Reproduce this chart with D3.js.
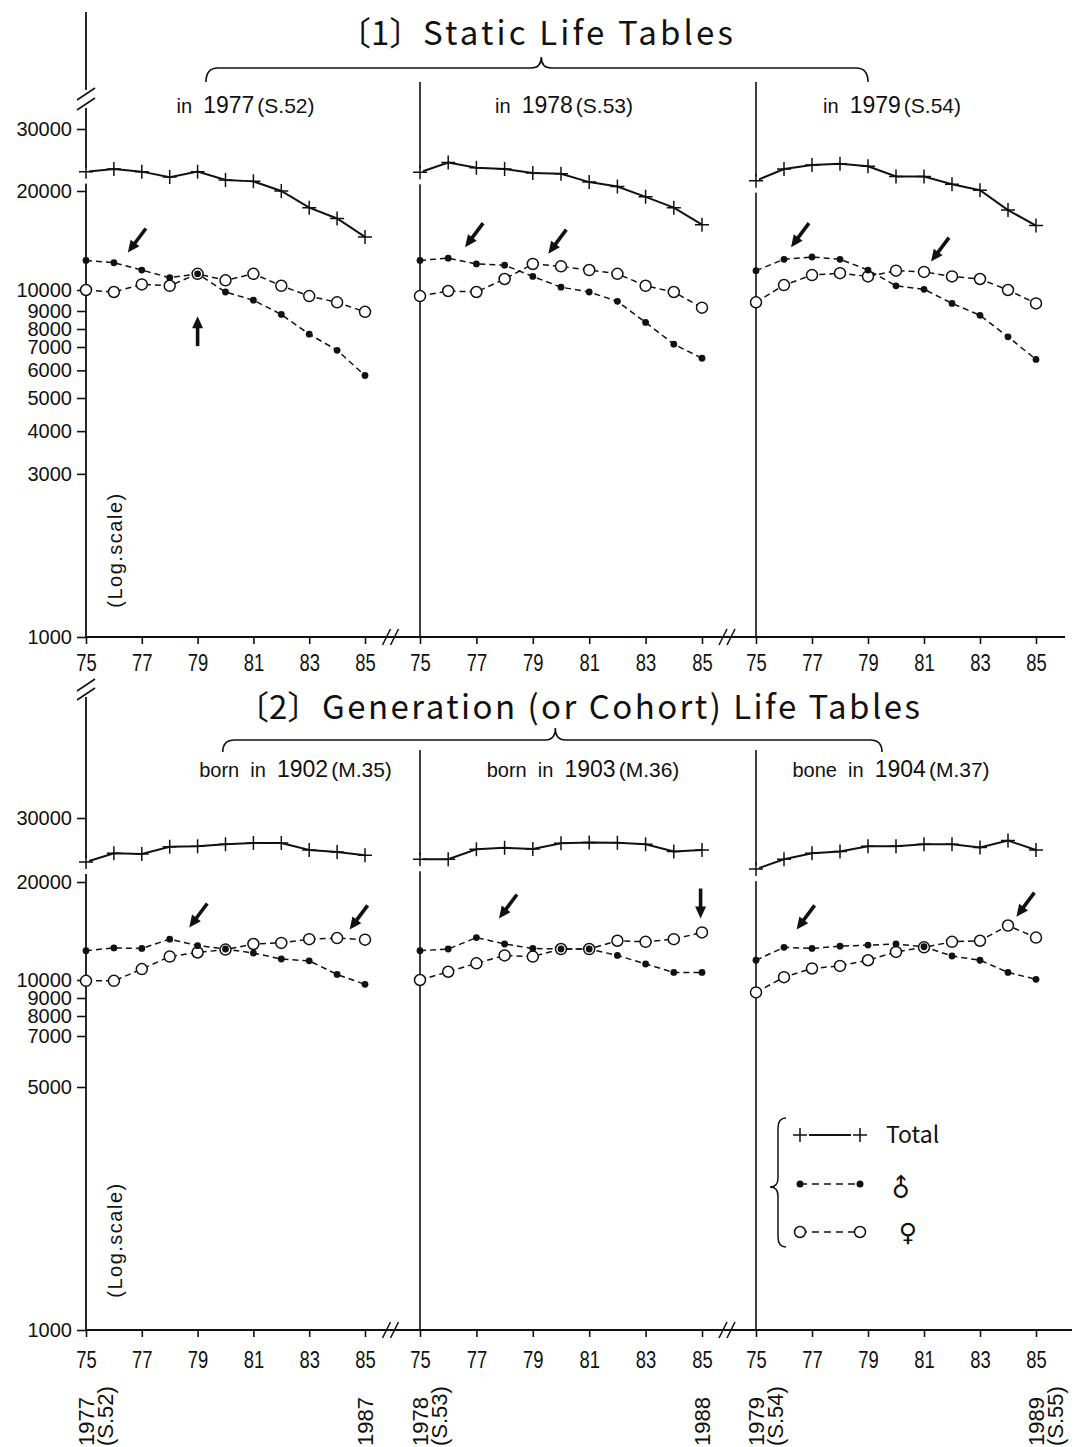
<!DOCTYPE html>
<html>
<head>
<meta charset="utf-8">
<script src="https://cdn.jsdelivr.net/npm/d3@7"></script>
<style>
  body { margin: 0; background: #fff; }
  svg { display: block; }
  text { fill: #111; white-space: pre; }
</style>
</head>
<body>
<div id="chart"></div>
<script>
// ---- data ----
const years = [75, 76, 77, 78, 79, 80, 81, 82, 83, 84, 85];
const yearTicks = [75, 77, 79, 81, 83, 85];
const topTicks = [30000, 20000, 10000, 9000, 8000, 7000, 6000, 5000, 4000, 3000, 1000];
const bottomTicks = [30000, 20000, 10000, 9000, 8000, 7000, 5000, 1000];

// [1] static life tables, one row per panel (1977, 1978, 1979)
const staticTotal = [
  [22700, 23100, 22700, 21900, 22700, 21500, 21300, 20000, 17800, 16500, 14500],
  [22600, 24100, 23300, 23100, 22500, 22400, 21200, 20600, 19200, 17800, 15800],
  [21400, 23100, 23700, 23900, 23500, 22000, 22000, 20900, 20100, 17500, 15700]
];
const staticMale = [
  [12300, 12100, 11500, 10900, 11200, 9900, 9500, 8800, 7700, 6850, 5800],
  [12300, 12500, 12000, 11900, 11000, 10200, 9900, 9450, 8350, 7150, 6500],
  [11450, 12400, 12600, 12400, 11500, 10300, 10050, 9350, 8750, 7550, 6450]
];
const staticFemale = [
  [10000, 9900, 10400, 10300, 11200, 10700, 11200, 10300, 9700, 9400, 8950],
  [9700, 9950, 9900, 10800, 12000, 11800, 11500, 11200, 10300, 9900, 9150],
  [9400, 10350, 11100, 11250, 11000, 11450, 11350, 11000, 10800, 10000, 9350]
];
const staticSubs = [["in", "1977", "(S.52)"], ["in", "1978", "(S.53)"], ["in", "1979", "(S.54)"]];
const staticArrows = [[0, 76.5, 13000, "sw"], [0, 79.0, 8700, "up"], [1, 76.6, 13500, "sw"],
                      [1, 79.55, 12900, "sw"], [2, 76.25, 13500, "sw"], [2, 81.25, 12200, "sw"]];

// [2] generation (cohort) life tables (born 1902, 1903, 1904)
const cohortTotal = [
  [22700, 24000, 23900, 25000, 25100, 25400, 25600, 25600, 24500, 24200, 23700],
  [23100, 23100, 24600, 24850, 24650, 25550, 25700, 25650, 25400, 24250, 24500],
  [21700, 23100, 24000, 24250, 25100, 25100, 25400, 25400, 24900, 26000, 24500]
];
const cohortMale = [
  [12300, 12550, 12500, 13350, 12750, 12450, 12100, 11600, 11450, 10400, 9750],
  [12300, 12450, 13500, 12900, 12500, 12450, 12450, 11900, 11200, 10550, 10550],
  [11500, 12600, 12500, 12700, 12800, 12900, 12650, 11850, 11500, 10550, 10050]
];
const cohortFemale = [
  [9950, 9950, 10800, 11800, 12150, 12400, 12900, 13000, 13350, 13450, 13300],
  [10000, 10600, 11250, 11900, 11800, 12450, 12450, 13200, 13100, 13350, 14000],
  [9300, 10200, 10850, 11050, 11500, 12200, 12600, 13100, 13200, 14700, 13500]
];
const cohortSubs = [["born  in", "1902", "(M.35)"], ["born  in", "1903", "(M.36)"], ["bone  in", "1904", "(M.37)"]];
const cohortArrows = [[0, 78.7, 14500, "sw"], [0, 84.45, 14300, "sw"], [1, 77.8, 15450, "sw"],
                      [1, 84.95, 15450, "down"], [2, 76.45, 14300, "sw"], [2, 84.3, 15650, "sw"]];

// calendar years under the cohort panels
const endLabels = [
  [0, 75, ["1977", "(S.52)"]], [0, 85, ["1987"]],
  [1, 75, ["1978", "(S.53)"]], [1, 85, ["1988"]],
  [2, 75, ["1979", "(S.54)"]], [2, 85, ["1989", "(S.55)"]]
];

// ---- layout ----
const W = 1075, H = 1447;
const SANS = "'Liberation Sans', Arial, sans-serif";
const JP = "'Noto Sans CJK JP', 'Noto Sans', sans-serif";
const INK = "#111";
const panelX = [[86, 365], [420, 702], [756, 1036]];
const xs = panelX.map(r => d3.scaleLinear().domain([75, 85]).range(r));
// the printed log axis is hand drawn, so the scale is pinned at its labelled ticks
const yAnchors = [1000, 5000, 7000, 8000, 9000, 10000, 20000, 30000];

const svg = d3.select("#chart").append("svg")
    .attr("width", W)
    .attr("height", H)
    .style("background", "#fff");

const blocks = [
  {total: staticTotal, male: staticMale, female: staticFemale, ticks: topTicks,
   yRange: [637, 398, 347, 329, 311, 290, 191, 129], sepTop: 82, axisTop: 108, topLine: [12, 90], breakY: [94, 104],
   arrows: staticArrows, subs: staticSubs, subY: 113, subShift: [20, 3, -4], logY: 550,
   xEnd: 1065, labelPad: 11, title: ["〔1〕", "Static Life Tables"], titleX: [338, 423], titleLen: 310, titleY: 45,
   brace: [[0, 79.3], [1, 79.3], [2, 79.0]], braceY: [82, 68, 57]},
  {total: cohortTotal, male: cohortMale, female: cohortFemale, ticks: bottomTicks,
   yRange: [1330, 1087, 1036, 1016, 998, 980, 882, 818], sepTop: 750, axisTop: 697, topLine: null, breakY: [685, 694],
   arrows: cohortArrows, subs: cohortSubs, subY: 777, subShift: [70, 22, -5], logY: 1240,
   xEnd: 1072, labelPad: 15, title: ["〔2〕", "Generation (or Cohort) Life Tables"], titleX: [236, 322], titleLen: 598, titleY: 719,
   brace: [[0, 79.9], [1, 79.8], [2, 79.5]], braceY: [752, 740, 728]}
];

const dirs = {sw: [-0.6, 0.8], up: [0, -1], down: [0, 1]};

function drawArrow(g, tx, ty, dir) {
  const [ux, uy] = dirs[dir];
  const L = 30, hl = 12, hw = 5.5;
  const bx = tx - ux * hl, by = ty - uy * hl;
  g.append("line")
      .attr("x1", tx - ux * L).attr("y1", ty - uy * L)
      .attr("x2", bx + ux * 2).attr("y2", by + uy * 2)
      .attr("stroke", INK).attr("stroke-width", 3.6);
  g.append("path")
      .attr("d", `M${tx},${ty}L${bx - uy * hw},${by + ux * hw}L${bx + uy * hw},${by - ux * hw}Z`)
      .attr("fill", INK);
}

function slash(g, cx, cy, hx, hy) {
  g.append("line")
      .attr("x1", cx - hx).attr("y1", cy + hy)
      .attr("x2", cx + hx).attr("y2", cy - hy)
      .attr("stroke", INK).attr("stroke-width", 1.6);
}

const plus = "M-7,0H7M0,-7V7";

blocks.forEach(function (b) {
  const y = d3.scaleLog().domain(yAnchors).range(b.yRange);
  const y0 = b.yRange[0];
  const g = svg.append("g");

  // title
  const t = g.append("text").attr("y", b.titleY).style("font-family", JP).style("font-size", "33px");
  t.append("tspan").attr("x", b.titleX[0]).text(b.title[0]);
  t.append("tspan").attr("x", b.titleX[1]).attr("textLength", b.titleLen)
      .attr("lengthAdjust", "spacing").text(b.title[1]);

  // brace
  const bx1 = xs[b.brace[0][0]](b.brace[0][1]),
      bxm = xs[b.brace[1][0]](b.brace[1][1]),
      bx2 = xs[b.brace[2][0]](b.brace[2][1]);
  const [ye, ym, yt] = b.braceY;
  g.append("path")
      .attr("d", `M${bx1},${ye}Q${bx1},${ym} ${bx1 + 12},${ym}L${bxm - 10},${ym}Q${bxm},${ym} ${bxm},${yt}` +
                 `Q${bxm},${ym} ${bxm + 10},${ym}L${bx2 - 12},${ym}Q${bx2},${ym} ${bx2},${ye}`)
      .attr("fill", "none").attr("stroke", INK).attr("stroke-width", 1.6);

  // y axis (log)
  const ax = g.append("g")
      .attr("transform", `translate(${panelX[0][0]},0)`)
      .call(d3.axisLeft(y).tickValues(b.ticks).tickFormat(d3.format("d")).tickSize(9).tickPadding(5));
  ax.select(".domain").remove();
  ax.selectAll("line").attr("stroke", INK).attr("stroke-width", 1.6);
  ax.selectAll("text").style("font-family", SANS).style("font-size", "20px").attr("fill", INK);

  // axis line with breaks
  const x0 = panelX[0][0];
  if (b.topLine) {
    g.append("line").attr("x1", x0).attr("x2", x0).attr("y1", b.topLine[0]).attr("y2", b.topLine[1])
        .attr("stroke", INK).attr("stroke-width", 1.8);
  }
  g.append("line").attr("x1", x0).attr("x2", x0).attr("y1", b.axisTop).attr("y2", y0)
      .attr("stroke", INK).attr("stroke-width", 1.8);
  b.breakY.forEach(v => slash(g, x0, v, 9, 6));

  // panel separators
  [1, 2].forEach(function (p) {
    g.append("line").attr("x1", panelX[p][0]).attr("x2", panelX[p][0])
        .attr("y1", b.sepTop).attr("y2", y0).attr("stroke", INK).attr("stroke-width", 1.6);
  });

  // x axis
  g.append("line").attr("x1", x0).attr("x2", b.xEnd).attr("y1", y0).attr("y2", y0)
      .attr("stroke", INK).attr("stroke-width", 1.8);
  [0, 1].forEach(function (p) {
    const bxr = (panelX[p][1] + panelX[p + 1][0]) / 2 - 2;
    slash(g, bxr - 4, y0, 4, 8);
    slash(g, bxr + 4, y0, 4, 8);
  });

  xs.forEach(function (x, p) {
    const gx = g.append("g")
        .attr("transform", `translate(0,${y0})`)
        .call(d3.axisBottom(x).tickValues(yearTicks).tickSize(7).tickPadding(b.labelPad));
    gx.select(".domain").remove();
    gx.selectAll("line").attr("stroke", INK).attr("stroke-width", 1.6);
    // narrow gothic numerals
    gx.selectAll("text").style("font-family", SANS).style("font-size", "23px").attr("fill", INK)
        .attr("transform", "scale(0.8,1)");

    // subtitle
    const s = b.subs[p];
    const st = g.append("text")
        .attr("x", (panelX[p][0] + panelX[p][1]) / 2 + b.subShift[p])
        .attr("y", b.subY)
        .attr("text-anchor", "middle")
        .style("font-family", SANS).style("font-size", "20px");
    st.append("tspan").text(s[0] + "  ");
    st.append("tspan").style("font-size", "23px").text(s[1]);
    st.append("tspan").attr("dx", 3).style("font-size", "21px").text(s[2]);

    // series
    const pts = arr => years.map((yr, i) => ({year: yr, v: arr[i]}));
    const line = d3.line().x(d => x(d.year)).y(d => y(d.v));
    const fem = pts(b.female[p]), mal = pts(b.male[p]), tot = pts(b.total[p]);

    g.append("path").datum(fem).attr("d", line).attr("fill", "none")
        .attr("stroke", INK).attr("stroke-width", 1.5).attr("stroke-dasharray", "6,4");
    g.append("path").datum(mal).attr("d", line).attr("fill", "none")
        .attr("stroke", INK).attr("stroke-width", 1.5).attr("stroke-dasharray", "6,4");
    g.append("path").datum(tot).attr("d", line).attr("fill", "none")
        .attr("stroke", INK).attr("stroke-width", 2);

    g.selectAll(null).data(fem).enter().append("circle")
        .attr("cx", d => x(d.year)).attr("cy", d => y(d.v)).attr("r", 5.5)
        .attr("fill", "#fff").attr("stroke", INK).attr("stroke-width", 1.5);
    g.selectAll(null).data(mal).enter().append("circle")
        .attr("cx", d => x(d.year)).attr("cy", d => y(d.v)).attr("r", 3.4)
        .attr("fill", INK);

    // gap in the axis below the first total mark
    g.append("rect")
        .attr("x", x(tot[0].year) - 3).attr("y", y(tot[0].v) - 4)
        .attr("width", 6).attr("height", 16).attr("fill", "#fff");
    g.selectAll(null).data(tot).enter().append("path")
        .attr("d", plus)
        .attr("transform", d => `translate(${x(d.year)},${y(d.v)})`)
        .attr("stroke", INK).attr("stroke-width", 1.5).attr("fill", "none");
  });

  // arrows
  b.arrows.forEach(function (a) {
    drawArrow(g, xs[a[0]](a[1]), y(a[2]), a[3]);
  });

  // log scale note
  g.append("text")
      .attr("transform", `translate(122,${b.logY}) rotate(-90)`)
      .attr("text-anchor", "middle")
      .style("font-family", SANS).style("font-size", "20px").style("letter-spacing", "1.5px")
      .attr("fill", "#222")
      .text("(Log.scale)");
});

// calendar year labels under the cohort panels
endLabels.forEach(function (e) {
  const x = xs[e[0]](e[1]);
  const t = svg.append("text")
      .attr("transform", `translate(${x},1446) rotate(-90)`)
      .style("font-family", SANS).style("font-size", "22px");
  e[2].forEach(function (s, i) {
    t.append("tspan").attr("x", 0).attr("y", 8 + i * 19).text(s);
  });
});

// legend
const lg = svg.append("g");
const legX = [800, 860];
const legY = [1135, 1184, 1232];
lg.append("path")
    .attr("d", "M786,1118Q778,1118 778,1128L778,1178Q778,1187 770,1187Q778,1187 778,1196L778,1237Q778,1247 786,1247")
    .attr("fill", "none").attr("stroke", INK).attr("stroke-width", 1.5);

lg.append("line").attr("x1", legX[0] + 9).attr("x2", legX[1] - 9).attr("y1", legY[0]).attr("y2", legY[0])
    .attr("stroke", INK).attr("stroke-width", 2);
legX.forEach(function (lx) {
  lg.append("path").attr("d", plus).attr("transform", `translate(${lx},${legY[0]})`)
      .attr("stroke", INK).attr("stroke-width", 1.5).attr("fill", "none");
});
lg.append("text").attr("x", 886).attr("y", legY[0] + 8)
    .style("font-family", JP).style("font-size", "23px").text("Total");

lg.append("line").attr("x1", legX[0]).attr("x2", legX[1]).attr("y1", legY[1]).attr("y2", legY[1])
    .attr("stroke", INK).attr("stroke-width", 1.6).attr("stroke-dasharray", "7,5");
legX.forEach(function (lx) {
  lg.append("circle").attr("cx", lx).attr("cy", legY[1]).attr("r", 3.5).attr("fill", INK);
});
lg.append("text").attr("transform", `translate(907,${legY[1] + 10}) rotate(-45)`)
    .attr("text-anchor", "middle")
    .style("font-family", "'DejaVu Sans', sans-serif").style("font-size", "25px").text("♂");

lg.append("line").attr("x1", legX[0]).attr("x2", legX[1]).attr("y1", legY[2]).attr("y2", legY[2])
    .attr("stroke", INK).attr("stroke-width", 1.6).attr("stroke-dasharray", "7,5");
legX.forEach(function (lx) {
  lg.append("circle").attr("cx", lx).attr("cy", legY[2]).attr("r", 5.5)
      .attr("fill", "#fff").attr("stroke", INK).attr("stroke-width", 1.5);
});
lg.append("text").attr("x", 908).attr("y", legY[2] + 9)
    .attr("text-anchor", "middle")
    .style("font-family", "'DejaVu Sans', sans-serif").style("font-size", "25px").text("♀");
</script>
</body>
</html>
